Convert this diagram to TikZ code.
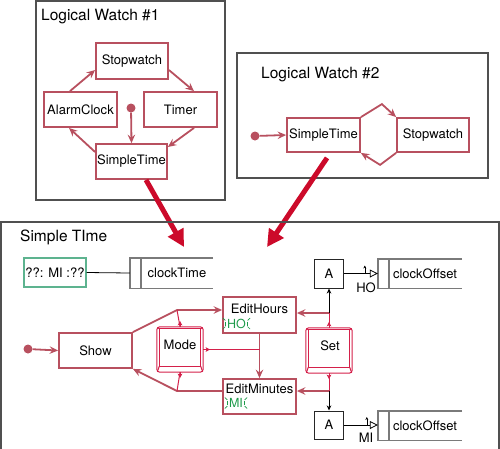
\documentclass[tikz,border=0pt]{standalone}
\usepackage{fontspec}
\setmainfont{TeX Gyre Heros}
\usetikzlibrary{arrows.meta,calc}
\definecolor{rose}{HTML}{B8505F}
\definecolor{keyred}{HTML}{D4204A}
\definecolor{bigred}{HTML}{CC0A2A}
\definecolor{grn}{HTML}{1E9A4A}
\definecolor{grnbox}{HTML}{5DB38F}
\definecolor{reg}{HTML}{7A7A7A}
\definecolor{frm}{HTML}{505050}
\newcommand\mykey[1]{%
  \draw[kline, rounded corners=3pt] (#1.north west) rectangle (#1.south east);
  \draw[kline] ([shift={(2.5,2)}]#1.north west) rectangle ([shift={(-2.5,-6)}]#1.south east);
  \draw[kline] ([shift={(2.5,-6)}]#1.south west) -- ([shift={(0.6,-0.6)}]#1.south west);
  \draw[kline] ([shift={(-2.5,-6)}]#1.south east) -- ([shift={(-0.6,-0.6)}]#1.south east);
  \draw[kline] ([shift={(2.5,2)}]#1.north west) -- ([shift={(0.8,0.8)}]#1.north west);
  \draw[kline] ([shift={(-2.5,2)}]#1.north east) -- ([shift={(-0.8,0.8)}]#1.north east);
}
\newcommand\myblink[1]{%
  \draw[grn, line width=0.6pt] ([shift={(-4,-5.5)}]#1.west) -- ([shift={(-1.5,-3)}]#1.west);
  \draw[grn, line width=0.6pt] ([shift={(-1.5,-2)}]#1.west) -- ([shift={(-1.5,2)}]#1.west);
  \draw[grn, line width=0.6pt] ([shift={(-1.5,3)}]#1.west) -- ([shift={(-4,5.5)}]#1.west);
  \draw[grn, line width=0.6pt] ([shift={(4,-5.5)}]#1.east) -- ([shift={(1.5,-3)}]#1.east);
  \draw[grn, line width=0.6pt] ([shift={(1.5,-2)}]#1.east) -- ([shift={(1.5,2)}]#1.east);
  \draw[grn, line width=0.6pt] ([shift={(1.5,3)}]#1.east) -- ([shift={(4,5.5)}]#1.east);
}
\begin{document}
\begin{tikzpicture}[x=1pt,y=-1pt,
  every node/.style={inner sep=0pt, font=\fontsize{13}{15}\selectfont},
  frame/.style={draw=frm, line width=1.4pt},
  rbox/.style={draw=rose, line width=1.8pt},
  rarr/.style={draw=rose, line width=1.8pt, -{Stealth[length=8.5pt,width=7.5pt,inset=3pt]}},
  kline/.style={draw=keyred, line width=1pt},
  ktip/.style={draw=keyred, line width=0.9pt, -{Stealth[length=4.5pt,width=4.5pt,inset=1pt]}},
  barr/.style={draw=black, line width=0.8pt, -{Stealth[length=5pt,width=4.5pt,inset=1.5pt]}},
  oarr/.style={draw=black, line width=0.8pt, -{Triangle[open,length=8pt,width=8pt]}},
  big/.style={draw=bigred, line width=5pt, -{Triangle[length=17pt,width=17pt]}},
  dot/.style={circle, fill=rose, minimum size=9pt},
  title/.style={font=\fontsize{15.5}{18}\selectfont, anchor=base west},
  keybox/.style={minimum width=46pt, minimum height=45pt},
  abox/.style={draw=black!85, line width=1pt, minimum width=29pt, minimum height=29pt},
  regn/.style={minimum width=84pt, minimum height=29pt},
  regline/.style={draw=reg, line width=1.4pt},
  gtxt/.style={text=grn, font=\fontsize{12.5}{14}\selectfont},
]
\useasboundingbox (0,0) rectangle (500,448);

% ---------- Logical Watch #1
\node[frame, minimum width=189pt, minimum height=199pt] (lw1) at (130.5,100.5) {};
\node[title] (t1) at (41,20) {Logical Watch \#1};
\node[rbox, minimum width=72pt, minimum height=36pt] (sw1) at (132,61) {Stopwatch};
\node[rbox, minimum width=73pt, minimum height=35pt] (ac1) at (80.5,109.5) {AlarmClock};
\node[rbox, minimum width=73pt, minimum height=35pt] (tm1) at (180.5,109.5) {Timer};
\node[rbox, minimum width=71pt, minimum height=35pt] (st1) at (131.5,161.5) {SimpleTime};
\node[dot] (d1) at (131,108) {};
\draw[rarr] ([xshift=-10.5pt]ac1.north) -- ([yshift=-9pt]sw1.west);
\draw[rarr] ([yshift=-9pt]sw1.east) -- ([xshift=13.5pt]tm1.north);
\draw[rarr] ([xshift=13.5pt]tm1.south) -- ([yshift=14.5pt]st1.east);
\draw[rarr] ([yshift=9.5pt]st1.west) -- ([xshift=-11.5pt]ac1.south);
\draw[rarr] (d1) -- (st1.north);

% ---------- Logical Watch #2
\node[frame, minimum width=251pt, minimum height=125pt] (lw2) at (362.5,115.5) {};
\node[title] (t2) at (261,78) {Logical Watch \#2};
\node[rbox, minimum width=73pt, minimum height=34pt] (st2) at (323.5,135) {SimpleTime};
\node[rbox, minimum width=72pt, minimum height=34pt] (sw2) at (433,135) {Stopwatch};
\node[dot] (d2) at (255,136) {};
\draw[rarr] (d2) -- (st2.west);
\draw[rarr] (st2.north east) -- ++(21,-13) -- (sw2.north west);
\draw[rarr] (sw2.south west) -- ++(-16,12) -- (st2.south east);

% ---------- big arrows
\coordinate (b1) at (184,247);
\coordinate (b2) at (267,247);
\draw[big] ([xshift=14.5pt]st1.south) -- (b1);
\draw[big] ([xshift=3.5pt,yshift=-5pt]st2.south) -- (b2);

% ---------- Simple Time
\draw[frame] (1,450) -- (1,222) -- (499,222) -- (499,450);
\node[title] (t3) at (20,241) {Simple TIme};

\node[draw=grnbox, line width=1.4pt, minimum width=62pt, minimum height=29pt] (tb) at (55,272.5) {??: MI :??};
\node[regn, minimum width=83pt, minimum height=30pt] (ct) at (171.5,273) {};
\draw[regline] (ct.north east) -- (ct.north west) -- (ct.south west) -- (ct.south east);
\draw[regline] ([xshift=11pt]ct.north west) -- ([xshift=11pt]ct.south west);
\node (ctl) at (177,273) {clockTime};
\draw[black, line width=0.8pt] (tb.east) -- (ct.west);

% top A / clockOffset
\node[abox] (a1) at (329,273.5) {A};
\node[regn] (co1) at (420,273.5) {};
\draw[regline] (co1.north east) -- (co1.north west) -- (co1.south west) -- (co1.south east);
\draw[regline] ([xshift=11pt]co1.north west) -- ([xshift=11pt]co1.south west);
\node (co1l) at (425,273.5) {clockOffset};
\draw[oarr] (a1.east) -- (co1.west);
\draw[black, line width=0.6pt, -{Stealth[length=3pt,width=3pt]}] ([xshift=-13pt]co1.west) -- ++(0,-8);
\node (ho1) at (366,288) {HO};

% bottom A / clockOffset
\node[abox, minimum height=28pt] (a2) at (329,425) {A};
\node[regn] (co2) at (420,425.5) {};
\draw[regline] (co2.north east) -- (co2.north west) -- (co2.south west) -- (co2.south east);
\draw[regline] ([xshift=11pt]co2.north west) -- ([xshift=11pt]co2.south west);
\node (co2l) at (425,425.5) {clockOffset};
\draw[oarr] (a2.east) -- (co2.west |- a2.east);
\draw[black, line width=0.6pt, -{Stealth[length=3pt,width=3pt]}] ([xshift=-11pt]co2.west |- a2.east) -- ++(0,-8);
\node (mi1) at (366,438) {MI};

% states
\node[rbox, minimum width=73pt, minimum height=36pt] (eh) at (259.5,315) {};
\node[anchor=base] (ehl) at (259.5,313) {EditHours};
\node[gtxt] (ho) at (236.5,323.5) {HO};
\myblink{ho}
\node[rbox, minimum width=73pt, minimum height=35pt] (em) at (259.5,396.5) {};
\node[anchor=base] (eml) at (259.5,393) {EditMinutes};
\node[gtxt] (mi) at (236,403) {MI};
\myblink{mi}
\node[rbox, minimum width=73pt, minimum height=35pt] (show) at (95.5,350.5) {Show};
\node[dot] (d3) at (28,349) {};
\draw[rarr] (d3) -- (show.west);

\coordinate (j1) at (177,310);
\coordinate (j2) at (177,391);
\coordinate (j3) at (329,313);
\coordinate (j4) at (329,391);

\draw[rarr] (show.north east) -- (j1) -- (eh.west |- j1);
\draw[rarr] (eh.south) -- (em.north);
\draw[rarr] (em.west |- j2) -- (j2) -- (show.south east);

% Mode key
\node[keybox] (mode) at (180,349.5) {};
\mykey{mode}
\node (model) at (180,345) {Mode};
\draw[kline] (mode.north) -- (j1);
\draw[ktip] (mode.north) -- ++(0,-6);
\draw[kline] (mode.south) -- (j2);
\draw[ktip] (mode.south) -- ++(0,6);
\draw[kline] (mode.east) -- (eh.south |- mode.east);
\draw[ktip] (mode.east) -- ++(7,0);

% Set key
\node[keybox] (set) at (329,350.5) {};
\mykey{set}
\node (setl) at (330,346) {Set};
\draw[kline] (set.north) -- (j3);
\draw[ktip] (set.north) -- ++(0,-6);
\draw[barr] (j3) -- (a1.south);
\draw[rarr] (j3) -- (eh.east |- j3);
\draw[kline] (set.south) -- (j4);
\draw[ktip] (set.south) -- ++(0,6);
\draw[barr] (j4) -- (a2.north);
\draw[rarr] (j4) -- (em.east |- j4);
\end{tikzpicture}
\end{document}
